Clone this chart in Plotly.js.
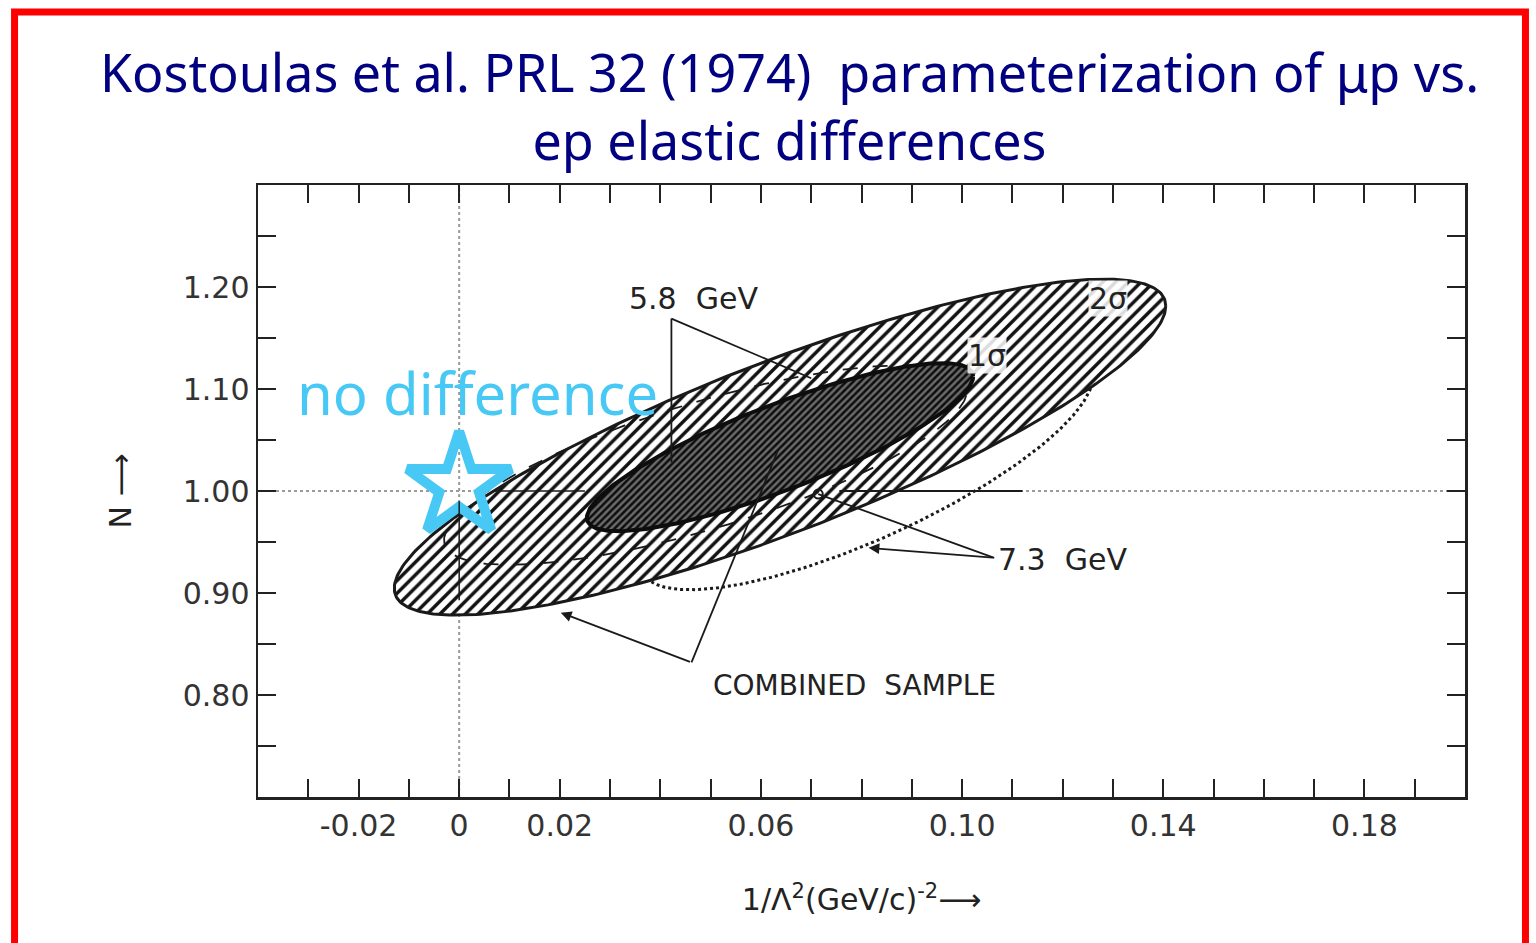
<!DOCTYPE html>
<html><head><meta charset="utf-8">
<script src="https://cdn.plot.ly/plotly-3.0.1.min.js"></script>
<style>html,body{margin:0;padding:0;background:#fff;} #chart{width:1536px;height:943px;}</style>
</head><body><div id="chart"></div>
<script>
// Contour ellipses: centre, half-extent in x and y, correlation
const ellipseNames   = ['7.3 GeV', '5.8 GeV', 'Combined sample 2σ', 'Combined sample 1σ'];
const ellipseCenterX = [0.081, 0.049, 0.0638, 0.0638];
const ellipseCenterY = [1.0205, 1.0254, 1.043, 1.043];
const ellipseHalfX   = [0.045, 0.052, 0.0767, 0.0384];
const ellipseHalfY   = [0.1173, 0.0978, 0.1647, 0.0824];
const ellipseCorr    = [0.78, 0.75, 0.84, 0.84];

// "no difference" point
const noDiffX = [0];
const noDiffY = [1.005];
// 7.3 GeV best-fit point (small circle)
const fitX = [0.0714];
const fitY = [0.997];

// Axis ticks
const xTickVals = [-0.03,-0.02,-0.01,0,0.01,0.02,0.03,0.04,0.05,0.06,0.07,0.08,0.09,0.10,0.11,0.12,0.13,0.14,0.15,0.16,0.17,0.18,0.19];
const xTickText = ['','-0.02','','0','','0.02','','','','0.06','','','','0.10','','','','0.14','','','','0.18',''];
const yTickVals = [0.75,0.80,0.85,0.90,0.95,1.00,1.05,1.10,1.15,1.20,1.25];
const yTickText = ['','0.80','','0.90','','1.00','','1.10','','1.20',''];

function ellipse(i){
  const n = 360, phi = Math.acos(ellipseCorr[i]);
  const xs = [], ys = [];
  for(let k=0;k<=n;k++){
    const t = 2*Math.PI*k/n;
    xs.push(ellipseCenterX[i] + ellipseHalfX[i]*Math.cos(t));
    ys.push(ellipseCenterY[i] + ellipseHalfY[i]*Math.cos(t - phi));
  }
  return {x:xs, y:ys};
}

const e73 = ellipse(0), e58 = ellipse(1), e2 = ellipse(2), e1 = ellipse(3);
const starColor = '#48C8F5';
const ink = '#1a1a1a';

const traces = [
  {type:'scatter', mode:'lines', name:ellipseNames[0], x:e73.x, y:e73.y,
   line:{color:ink, width:3, dash:'dot'}, hoverinfo:'skip'},
  {type:'scatter', mode:'lines', name:ellipseNames[2], x:e2.x, y:e2.y, fill:'toself',
   fillpattern:{shape:'/', fgcolor:'#111', bgcolor:'#ffffff', size:9, solidity:0.38},
   line:{color:ink, width:3}, hoverinfo:'skip'},
  {type:'scatter', mode:'lines', name:ellipseNames[1], x:e58.x, y:e58.y,
   line:{color:ink, width:1.8, dash:'longdash'}, hoverinfo:'skip'},
  {type:'scatter', mode:'lines', name:ellipseNames[3], x:e1.x, y:e1.y, fill:'toself',
   fillpattern:{shape:'/', fgcolor:'#0d0d0d', bgcolor:'#6b6b6b', size:5, solidity:0.5},
   line:{color:'#0d0d0d', width:4}, hoverinfo:'skip'},
  {type:'scatter', mode:'markers', name:'7.3 GeV fit', x:fitX, y:fitY,
   marker:{symbol:'circle-open', size:9, color:ink, line:{width:2}}, hoverinfo:'skip'},
  {type:'scatter', mode:'markers', name:'no difference', x:noDiffX, y:noDiffY,
   marker:{symbol:'star-open', size:78, color:starColor, line:{width:10, color:starColor}}, hoverinfo:'skip'}
];

const lblFont = {family:'DejaVu Sans', size:30, color:'#222'};
function leaderShape(x0, y0, x1, y1){
  return {type:'line', xref:'x', yref:'y', x0:x0, y0:y0, x1:x1, y1:y1, layer:'above', line:{color:ink, width:1.8}};
}
function arrow(x, y, ax, ay){
  return {x:x, y:y, ax:ax, ay:ay, xref:'x', yref:'y', axref:'x', ayref:'y', text:'',
          showarrow:true, arrowhead:2, arrowsize:1.2, arrowwidth:1.8, arrowcolor:ink, standoff:0, startstandoff:0};
}

const layout = {
  width:1536, height:943,
  paper_bgcolor:'#ffffff', plot_bgcolor:'#ffffff',
  margin:{l:258, r:71, t:185, b:146},
  showlegend:false,
  title:{
    text:'Kostoulas et al. PRL 32 (1974)  parameterization of μp vs.<br>ep elastic differences',
    font:{family:'Noto Sans', size:52, color:'#000080'},
    x:0.514, xref:'container', xanchor:'center', y:0.902, yref:'container', yanchor:'top'
  },
  xaxis:{
    range:[-0.04, 0.20], showgrid:false, zeroline:false,
    tickmode:'array', tickvals:xTickVals, ticktext:xTickText,
    ticks:'inside', ticklen:18, tickwidth:2, tickcolor:'#222',
    showline:true, linewidth:2.5, linecolor:'#222', mirror:'ticks',
    tickfont:{family:'DejaVu Sans', size:30, color:'#333'},
    title:{text:'1/Λ<sup>2</sup>(GeV/c)<sup>-2</sup>⟶', font:{family:'DejaVu Sans', size:30, color:'#222'}, standoff:48}
  },
  yaxis:{
    range:[0.70, 1.30], showgrid:false, zeroline:false,
    tickmode:'array', tickvals:yTickVals, ticktext:yTickText,
    ticks:'inside', ticklen:18, tickwidth:2, tickcolor:'#222',
    showline:true, linewidth:2.5, linecolor:'#222', mirror:'ticks',
    tickfont:{family:'DejaVu Sans', size:30, color:'#333'},
    title:{text:'N ⟶', font:{family:'DejaVu Sans', size:30, color:'#222'}, standoff:42}
  },
  shapes:[
    {type:'line', xref:'x', yref:'paper', x0:0, x1:0, y0:0, y1:1, layer:'below', line:{color:'#9a9a9a', width:2, dash:'dot'}},
    {type:'line', xref:'paper', yref:'y', x0:0, x1:1, y0:1, y1:1, layer:'below', line:{color:'#9a9a9a', width:2, dash:'dot'}},
    {type:'line', xref:'x', yref:'y', x0:0, x1:0, y0:0.893, y1:0.99, layer:'above', line:{color:ink, width:1.5}},
    {type:'line', xref:'x', yref:'y', x0:0.007, x1:0.025, y0:1, y1:1, layer:'above', line:{color:ink, width:1.5}},
    {type:'line', xref:'x', yref:'y', x0:0.0756, x1:0.112, y0:1, y1:1, layer:'above', line:{color:ink, width:1.8}},
    leaderShape(0.0422, 1.169, 0.0422, 1.028),
    leaderShape(0.0422, 1.169, 0.070, 1.1105),
    leaderShape(0.1064, 0.9345, 0.0714, 0.997),
    leaderShape(0.0462, 0.8319, 0.0634, 1.040),
    {type:'rect', xref:'paper', yref:'paper', x0:-0.2017, x1:1.0501, y0:-0.27, y1:1.2827, layer:'above',
     line:{color:'#ff0000', width:7}, fillcolor:'rgba(0,0,0,0)'}
  ],
  annotations:[
    {x:0.0466, y:1.1887, xref:'x', yref:'y', text:'5.8  GeV', showarrow:false, font:lblFont},
    {x:0.129, y:1.1887, xref:'x', yref:'y', text:'2σ', showarrow:false, font:lblFont, bgcolor:'rgba(255,255,255,0.85)', borderpad:0},
    {x:0.105, y:1.133, xref:'x', yref:'y', text:'1σ', showarrow:false, font:lblFont, bgcolor:'rgba(255,255,255,0.85)', borderpad:0},
    {x:0.1068, y:0.9325, xref:'x', yref:'y', xanchor:'left', text:'7.3  GeV', showarrow:false, font:lblFont},
    arrow(0.0814, 0.9443, 0.1064, 0.9345),
    {x:0.0786, y:0.8094, xref:'x', yref:'y', text:'COMBINED  SAMPLE', showarrow:false, font:{family:'DejaVu Sans', size:28, color:'#222'}},
    arrow(0.0202, 0.8807, 0.0462, 0.8319),
    {x:0.0036, y:1.0968, xref:'x', yref:'y', text:'no difference', showarrow:false,
     font:{family:'Noto Sans', size:58, color:starColor}}
  ]
};

Plotly.newPlot('chart', traces, layout, {displayModeBar:false, staticPlot:true});
</script></body></html>
